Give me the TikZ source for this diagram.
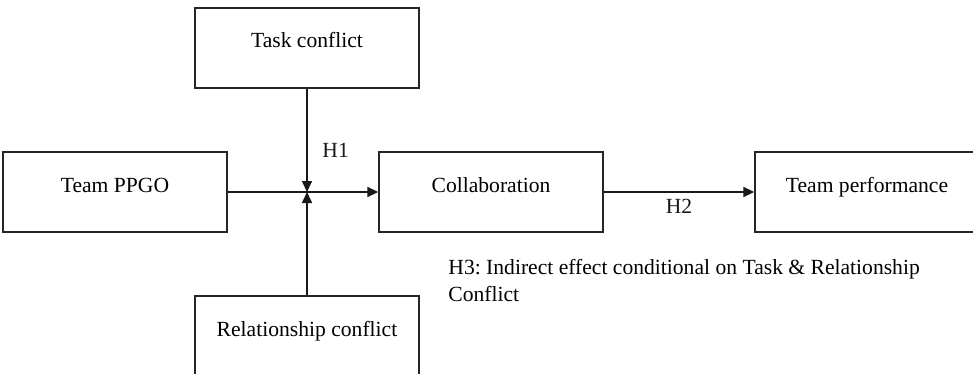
\documentclass[tikz,border=0pt]{standalone}
\usepackage{fontspec}
\setmainfont{Liberation Serif}
\usetikzlibrary{arrows.meta}
\frenchspacing
\begin{document}
\begin{tikzpicture}[x=0.5pt,y=-0.5pt,
        font=\fontsize{10.8pt}{13.3pt}\selectfont,
        >={Triangle[length=5.5pt,width=5pt]},
        varbox/.style={draw=black!85,line width=0.7pt,rectangle,minimum width=112pt,minimum height=40pt,text height=5pt,text depth=5pt,inner sep=0pt},
        link/.style={black!90,line width=0.8pt}]
                \useasboundingbox (0,0) rectangle (973,374);

                \node[varbox] at (115,192) (ppgo) {Team PPGO};
                \node[varbox] at (307,48) (task) {Task conflict};
                \node[varbox] at (307,336) (rel) {Relationship conflict};
                \coordinate (jn) at (307,192);

                \node[varbox] at (491,192) (collab) {Collaboration};
                \node[varbox] at (867,192) (perf) {Team performance};

                \node[anchor=north west,align=left,inner sep=0pt] at (448,259) (h3) {H3: Indirect effect conditional on Task \& Relationship\\Conflict};

                \draw[link,->] (ppgo) -- (collab);
                \draw[link,->] (task) --node[right,xshift=4pt,pos=0.6]{H1} (jn);
                \draw[link,->] (rel) -- (jn);

                \draw[link,->] (collab) --node[below]{H2} (perf);

            \end{tikzpicture}
\end{document}
